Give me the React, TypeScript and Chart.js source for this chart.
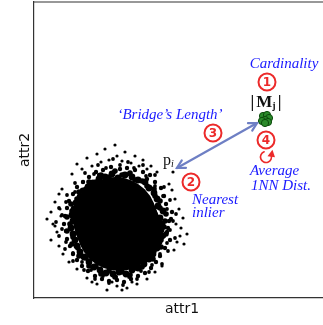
import React, { useEffect, useRef } from 'react';
import { Chart, registerables } from 'chart.js';
Chart.register(...registerables);

// ---- data (axis units; both axes span 0..296, unlabeled) ----
const corePoints: number[][] = [[83, 74], [81, 79], [85, 69]];

const midPoints: number[][] = [
  [128, 74], [126, 80], [129, 87], [124, 92], [123, 99], [120, 105], [115, 110], [111, 116],
  [104, 118], [98, 121], [91, 123], [84, 120], [78, 124], [71, 121], [65, 119], [59, 115],
  [54, 111], [49, 107], [46, 101], [42, 95], [40, 89], [38, 83], [39, 77], [37, 70],
  [39, 64], [41, 58], [43, 52], [46, 46], [50, 41], [55, 36], [60, 31], [66, 28],
  [72, 25], [79, 24], [85, 26], [92, 24], [98, 28], [104, 30], [110, 34], [115, 39],
  [119, 44], [123, 50], [125, 56], [128, 62], [127, 68],
];

const rimPoints: number[][] = [
  [131, 77], [132, 84], [126, 90], [126, 97], [121, 102], [120, 109], [113, 112], [108, 117],
  [101, 118], [96, 125], [88, 123], [81, 127], [75, 121], [67, 123], [62, 116], [55, 116],
  [52, 109], [45, 106], [43, 99], [37, 94], [38, 87], [33, 81], [36, 74], [33, 67],
  [39, 61], [38, 54], [44, 50], [45, 42], [52, 40], [55, 32], [62, 32], [67, 24],
  [75, 27], [81, 21], [88, 26], [96, 23], [101, 30], [108, 31], [111, 38], [119, 39],
  [120, 47], [127, 51], [127, 58], [132, 64], [130, 71],
];

const outerPoints: number[][] = [
  [135, 77], [133, 66], [138, 86], [132, 94], [136, 58], [130, 102], [127, 110], [121, 116],
  [116, 123], [109, 126], [101, 128], [93, 130], [86, 129], [77, 131], [69, 128], [62, 126],
  [55, 121], [49, 116], [43, 111], [39, 104], [35, 97], [33, 90], [31, 82], [30, 74],
  [32, 67], [33, 59], [36, 52], [39, 44], [43, 38], [48, 32], [54, 27], [61, 22],
  [68, 19], [75, 17], [83, 18], [90, 16], [97, 19], [104, 22], [111, 25], [117, 30],
  [122, 36], [126, 42], [131, 50], [134, 70], [137, 79], [130, 62], [80, 126], [95, 124],
  [65, 123], [113, 119],
];

const bandPoints: number[][] = [
  [139, 77], [142, 84], [133, 89], [136, 98], [129, 102], [130, 111], [121, 112], [121, 123],
  [112, 122], [109, 133], [100, 130], [94, 136], [86, 133], [79, 139], [72, 130], [64, 133],
  [60, 124], [51, 125], [49, 116], [41, 115], [41, 106], [33, 103], [32, 96], [25, 90],
  [28, 83], [22, 76], [28, 69], [25, 62], [32, 56], [31, 49], [39, 45], [39, 37],
  [48, 36], [50, 28], [57, 28], [61, 19], [69, 22], [75, 15], [82, 21], [89, 13],
  [95, 21], [103, 19], [107, 27], [115, 26], [118, 33], [128, 34], [126, 44], [134, 47],
  [133, 55], [141, 60], [136, 68],
];

const sparsePoints: number[][] = [
  [43, 134], [53, 140], [63, 144], [71, 149], [81, 153], [91, 146], [101, 142], [109, 138],
  [117, 132], [58, 132], [75, 138], [88, 137], [97, 135], [48, 129], [105, 132], [67, 136],
  [83, 142], [113, 129], [38, 124], [123, 126],
  [25, 104], [21, 96], [17, 86], [13, 79], [19, 74], [23, 66], [17, 58], [25, 52],
  [27, 82], [21, 72], [28, 109], [29, 44], [26, 89],
  [141, 99], [145, 89], [149, 80], [147, 70], [153, 64], [143, 56], [140, 48], [150, 54],
  [138, 108], [142, 74], [146, 62], [135, 114], [139, 126],
  [43, 29], [53, 20], [63, 14], [73, 8], [83, 12], [93, 10], [103, 14], [113, 19],
  [121, 26], [78, 16], [98, 16], [58, 16], [88, 8], [128, 32], [35, 36],
];

const greenPoints: number[][] = [
  [229, 182], [233, 183], [235, 180], [231, 178], [228, 177], [234, 176], [231, 175],
];

const axisLabels = { x: 'attr1', y: 'attr2' };

// annotation anchors (axis units)
const anchors: Record<string, number[]> = {
  cardinality: [250, 234],
  circle1: [233, 216],
  mj: [232, 191],
  circle4: [232, 158],
  loop: [232, 141],
  average: [216, 127],
  nnDist: [217, 112],
  circle3: [179, 165],
  bridge: [136, 183],
  arrowFrom: [143, 130],
  arrowTo: [223, 175],
  pi: [129, 133],
  circle2: [157, 116],
  nearest: [158, 98],
  inlier: [158, 85],
};

const RED = '#ec2a2a';
const BLUE = '#1a1aff';
const ARROW = '#6e7fc4';

const toXY = (pts: number[][]) => pts.map(([x, y]) => ({ x, y }));

const annotate = {
  id: 'annotate',
  afterDatasetsDraw(chart: any) {
    const { ctx, chartArea, scales } = chart;
    const P = (k: string) => [scales.x.getPixelForValue(anchors[k][0]), scales.y.getPixelForValue(anchors[k][1])];
    ctx.save();
    // top frame line
    ctx.strokeStyle = '#333';
    ctx.lineWidth = 1.2;
    ctx.beginPath();
    ctx.moveTo(chartArea.left, chartArea.top);
    ctx.lineTo(chartArea.right, chartArea.top);
    ctx.stroke();

    // double-headed arrow
    const [x1, y1] = P('arrowFrom');
    const [x2, y2] = P('arrowTo');
    ctx.strokeStyle = ARROW;
    ctx.lineWidth = 2.2;
    ctx.lineCap = 'round';
    ctx.beginPath();
    ctx.moveTo(x1, y1);
    ctx.lineTo(x2, y2);
    ctx.stroke();
    const head = (tx: number, ty: number, ang: number) => {
      const L = 9, h = 0.5;
      ctx.beginPath();
      ctx.moveTo(tx + L * Math.cos(ang + h), ty + L * Math.sin(ang + h));
      ctx.lineTo(tx, ty);
      ctx.lineTo(tx + L * Math.cos(ang - h), ty + L * Math.sin(ang - h));
      ctx.stroke();
    };
    head(x1, y1, Math.atan2(y2 - y1, x2 - x1));
    head(x2, y2, Math.atan2(y1 - y2, x1 - x2));

    // circled numbers
    const circled = (k: string, n: string) => {
      const [cx, cy] = P(k);
      ctx.beginPath();
      ctx.arc(cx, cy, 8.5, 0, Math.PI * 2);
      ctx.fillStyle = '#fff';
      ctx.fill();
      ctx.lineWidth = 2;
      ctx.strokeStyle = RED;
      ctx.stroke();
      ctx.fillStyle = RED;
      ctx.font = 'bold 12px "DejaVu Sans"';
      ctx.textAlign = 'center';
      ctx.textBaseline = 'middle';
      ctx.fillText(n, cx, cy + 0.5);
    };
    circled('circle1', '1');
    circled('circle2', '2');
    circled('circle3', '3');
    circled('circle4', '4');

    // loop arrow
    {
      const [cx, cy] = P('loop');
      const r = 5.5;
      const a0 = (250 * Math.PI) / 180;
      const a1 = (-25 * Math.PI) / 180;
      ctx.strokeStyle = RED;
      ctx.lineWidth = 1.6;
      ctx.beginPath();
      ctx.arc(cx, cy, r, a0, a1, true);
      ctx.stroke();
      const ex = cx + r * Math.cos(a1), ey = cy + r * Math.sin(a1);
      ctx.fillStyle = RED;
      ctx.beginPath();
      ctx.moveTo(ex + 1.5, ey - 5);
      ctx.lineTo(ex - 3.5, ey + 1.5);
      ctx.lineTo(ex + 4, ey + 2.5);
      ctx.closePath();
      ctx.fill();
    }

    // blue italic labels
    const blue = (k: string, t: string, align: CanvasTextAlign) => {
      const [px, py] = P(k);
      ctx.font = 'italic 15px "Liberation Serif"';
      ctx.fillStyle = BLUE;
      ctx.textAlign = align;
      ctx.textBaseline = 'middle';
      ctx.fillText(t, px, py);
    };
    blue('cardinality', 'Cardinality', 'center');
    blue('bridge', '\u2018Bridge\u2019s Length\u2019', 'center');
    blue('average', 'Average', 'left');
    blue('nnDist', '1NN Dist.', 'left');
    blue('nearest', 'Nearest', 'left');
    blue('inlier', 'inlier', 'left');

    // |M_j|
    {
      const [cx, by] = P('mj');
      ctx.fillStyle = '#111';
      ctx.textBaseline = 'alphabetic';
      ctx.textAlign = 'left';
      const big = 'bold 17px "Liberation Serif"';
      const small = 'bold 10px "Liberation Serif"';
      ctx.font = big;
      const wb = ctx.measureText('|').width;
      const wm = ctx.measureText('M').width;
      ctx.font = small;
      const wj = ctx.measureText('j').width;
      const gap = 2;
      const total = wb + gap + wm + wj + gap + wb;
      let sx = cx - total / 2;
      ctx.font = big;
      ctx.fillText('|', sx, by);
      sx += wb + gap;
      ctx.fillText('M', sx, by);
      sx += wm;
      ctx.font = small;
      ctx.fillText('j', sx, by + 2);
      sx += wj + gap;
      ctx.font = big;
      ctx.fillText('|', sx, by);
    }

    // p_i
    {
      const [px, by] = P('pi');
      ctx.fillStyle = '#111';
      ctx.textBaseline = 'alphabetic';
      ctx.textAlign = 'left';
      ctx.font = '16px "Liberation Serif"';
      ctx.fillText('p', px, by);
      const wp = ctx.measureText('p').width;
      ctx.font = 'italic 10px "Liberation Serif"';
      ctx.fillText('i', px + wp, by + 2);
    }
    ctx.restore();
  },
};

export default function App() {
  const ref = useRef<HTMLCanvasElement>(null);
  useEffect(() => {
    document.body.style.margin = '0';
    const titleFont = { family: 'DejaVu Sans', size: 14 };
    const black = (pts: number[][], r: number) => ({
      data: toXY(pts),
      pointRadius: r,
      pointHoverRadius: r,
      backgroundColor: '#000',
      borderWidth: 0,
      pointBorderWidth: 0,
    });
    const chart = new Chart(ref.current!, {
      type: 'scatter',
      data: {
        datasets: [
          black(corePoints, 42),
          black(midPoints, 3.4),
          black(rimPoints, 2.8),
          black(outerPoints, 2.2),
          black(bandPoints, 1.9),
          black(sparsePoints, 1.6),
          {
            data: toXY(greenPoints),
            pointRadius: 3.6,
            backgroundColor: '#2b8a2b',
            borderColor: '#0c4a0c',
            pointBorderWidth: 1,
          } as any,
        ],
      },
      options: {
        animation: false,
        responsive: false,
        devicePixelRatio: 1,
        events: [],
        layout: { autoPadding: false, padding: { top: 2, right: 0, bottom: 3.6, left: 0 } },
        plugins: { legend: { display: false }, tooltip: { enabled: false } },
        scales: {
          x: {
            type: 'linear',
            min: 0,
            max: 296,
            grid: { display: false, drawTicks: false },
            ticks: { display: false },
            border: { display: true, color: '#333', width: 1.2 },
            title: { display: true, text: axisLabels.x, color: '#111', font: titleFont, padding: { top: 2.6, bottom: 4 } },
          },
          y: {
            type: 'linear',
            min: 0,
            max: 296,
            grid: { display: false, drawTicks: false },
            ticks: { display: false },
            border: { display: true, color: '#333', width: 1.2 },
            title: { display: true, text: axisLabels.y, color: '#111', font: titleFont, padding: { top: 16.6, bottom: 0.6 } },
          },
        },
      },
      plugins: [annotate],
    });
    return () => chart.destroy();
  }, []);
  return (
    <div style={{ position: 'absolute', left: 0, top: 0, width: 323, height: 325, overflow: 'hidden', background: '#fff' }}>
      <canvas ref={ref} width={330} height={325} style={{ display: 'block', width: 330, height: 325 }} />
    </div>
  );
}
